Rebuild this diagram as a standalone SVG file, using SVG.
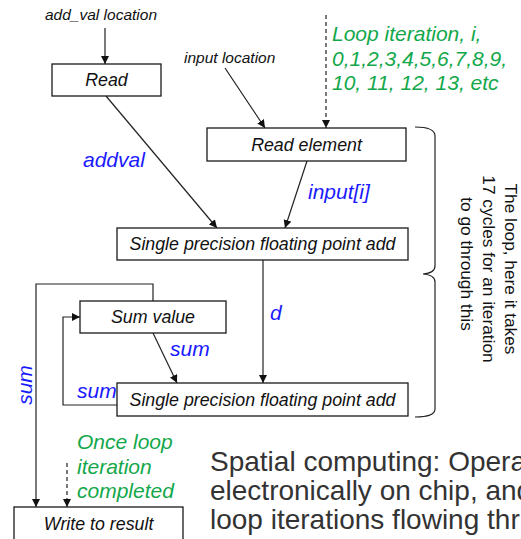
<svg xmlns="http://www.w3.org/2000/svg" width="521" height="539" viewBox="0 0 521 539">
  <style>
    .box { fill: #ffffff; stroke: #1a1a1a; stroke-width: 1.3; }
    .ntext { font-family: "Liberation Sans", Arial, sans-serif; font-style: italic; font-size: 17.8px; fill: #111; text-anchor: middle; }
    .small { font-family: "Liberation Sans", Arial, sans-serif; font-style: italic; font-size: 15.5px; fill: #111; }
    .edge { fill: none; stroke: #222; stroke-width: 1.2; }
    .dash { fill: none; stroke: #222; stroke-width: 1.2; stroke-dasharray: 4 3; }
    .var { font-family: "Liberation Sans", Arial, sans-serif; font-style: italic; font-size: 21px; fill: #1a1aff; }
    .green { font-family: "Liberation Sans", Arial, sans-serif; font-style: italic; font-size: 21px; fill: #12a84a; }
    .note { font-family: "Liberation Sans", Arial, sans-serif; font-size: 17.3px; fill: #111; text-anchor: middle; }
    .big { font-family: "Liberation Sans", Arial, sans-serif; font-size: 28px; fill: #333333; }
  </style>
  <defs>
    <marker id="arrow" viewBox="0 0 10 10" refX="10" refY="5" markerWidth="8" markerHeight="8" markerUnits="userSpaceOnUse" orient="auto">
      <path d="M0,0 L10,5 L0,10 z" fill="#111"/>
    </marker>
  </defs>

  <!-- free-standing labels -->
  <text class="small" x="45" y="20">add_val location</text>
  <text class="small" x="184" y="63">input location</text>
  <text class="green" x="332" y="41">Loop iteration, i,</text>
  <text class="green" x="332" y="66">0,1,2,3,4,5,6,7,8,9,</text>
  <text class="green" x="332" y="90">10, 11, 12, 13, etc</text>
  <text class="green" x="77" y="449">Once loop</text>
  <text class="green" x="77" y="474">iteration</text>
  <text class="green" x="77" y="498">completed</text>

  <!-- connectors -->
  <g id="connectors">
    <line class="edge" x1="105" y1="28" x2="105" y2="64" marker-end="url(#arrow)"/>
    <line class="edge" x1="225" y1="68" x2="265" y2="128" marker-end="url(#arrow)"/>
    <line class="dash" x1="326" y1="15" x2="326" y2="128" marker-end="url(#arrow)"/>
    <line class="edge" x1="106" y1="96" x2="217" y2="228" marker-end="url(#arrow)"/>
    <line class="edge" x1="307" y1="161" x2="285" y2="228" marker-end="url(#arrow)"/>
    <line class="edge" x1="263" y1="260" x2="263" y2="383" marker-end="url(#arrow)"/>
    <line class="edge" x1="153" y1="333" x2="177" y2="383" marker-end="url(#arrow)"/>
    <polyline class="edge" points="117,405 63,405 63,317 80,317" marker-end="url(#arrow)"/>
    <polyline class="edge" points="153,301 153,284 36,284 36,507" marker-end="url(#arrow)"/>
    <line class="dash" x1="67" y1="463" x2="67" y2="507" marker-end="url(#arrow)"/>
    <text class="var" x="83" y="167">addval</text>
    <text class="var" x="308" y="199">input[i]</text>
    <text class="var" x="270" y="320">d</text>
    <text class="var" x="170" y="356">sum</text>
    <text class="var" x="77" y="398">sum</text>
    <text class="var" transform="translate(32,385) rotate(-90)" text-anchor="middle">sum</text>
  </g>

  <!-- nodes -->
  <g id="read">
    <rect class="box" x="52" y="64" width="109" height="32"/>
    <text class="ntext" x="106.5" y="86">Read</text>
  </g>
  <g id="read-element">
    <rect class="box" x="207" y="128" width="199" height="33"/>
    <text class="ntext" x="306.5" y="151">Read element</text>
  </g>
  <g id="fp-add-1">
    <rect class="box" x="117" y="228" width="291" height="32"/>
    <text class="ntext" x="262.5" y="250">Single precision floating point add</text>
  </g>
  <g id="sum-value">
    <rect class="box" x="80" y="301" width="146" height="32"/>
    <text class="ntext" x="153" y="323">Sum value</text>
  </g>
  <g id="fp-add-2">
    <rect class="box" x="117" y="383" width="291" height="33"/>
    <text class="ntext" x="262.5" y="406">Single precision floating point add</text>
  </g>
  <g id="write-result">
    <rect class="box" x="14" y="507" width="169" height="40"/>
    <text class="ntext" x="98.5" y="530">Write to result</text>
  </g>

  <!-- loop brace and its note -->
  <path class="edge" d="M415,127 Q435,127 435,136 L435,266 Q435,273 423,274 Q435,275 435,282 L435,409 Q435,417 415,417"/>
  <text class="note" transform="translate(505,269) rotate(90)">The loop, here it takes</text>
  <text class="note" transform="translate(483,269) rotate(90)">17 cycles for an iteration</text>
  <text class="note" transform="translate(461,264) rotate(90)">to go through this</text>

  <!-- caption -->
  <text class="big" x="210" y="471">Spatial computing: Opera</text>
  <text class="big" x="210" y="500">electronically on chip, and</text>
  <text class="big" x="210" y="529">loop iterations flowing thr</text>
</svg>
